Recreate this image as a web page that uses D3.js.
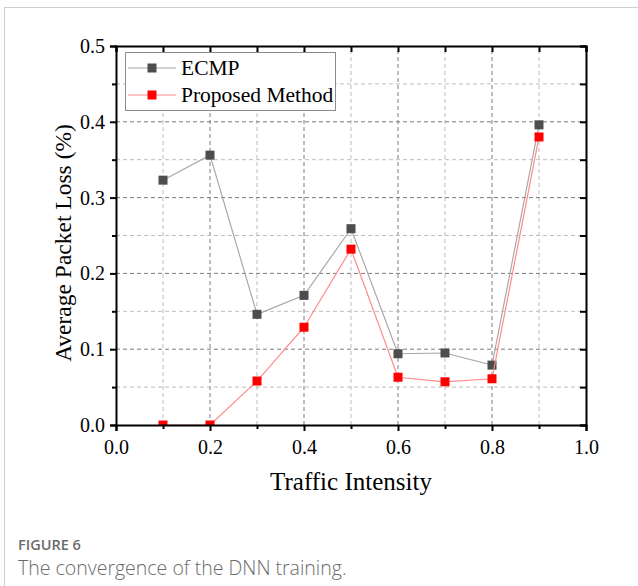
<!DOCTYPE html>
<html>
<head>
<meta charset="utf-8">
<script src="https://cdn.jsdelivr.net/npm/d3@7"></script>
<style>
  body { margin: 0; background: #fff; }
  svg text { font-family: "Liberation Serif", "Times New Roman", serif; }
</style>
</head>
<body>
<div id="chart"></div>
<script>
// Average packet loss vs traffic intensity

const intensity = [0.1, 0.2, 0.3, 0.4, 0.5, 0.6, 0.7, 0.8, 0.9];
const ecmp = [0.323, 0.356, 0.146, 0.171, 0.259, 0.094, 0.095, 0.079, 0.396];
const proposed = [0.0, 0.0, 0.058, 0.129, 0.232, 0.063, 0.057, 0.061, 0.380];
const xTicks = [0, 0.2, 0.4, 0.6, 0.8, 1.0];
const yTicks = [0, 0.1, 0.2, 0.3, 0.4, 0.5];
const seriesNames = ["ECMP", "Proposed Method"];

const width = 638, height = 586;
const margin = {top: 46, right: 52, bottom: 161, left: 116};

const svg = d3.select("#chart").append("svg")
    .attr("width", width)
    .attr("height", height);

// outer figure frame
svg.append("line").attr("x1", 4).attr("x2", width).attr("y1", 7.5).attr("y2", 7.5)
    .attr("stroke", "#cfcfcf").attr("stroke-width", 1);
svg.append("line").attr("x1", 4.5).attr("x2", 4.5).attr("y1", 7).attr("y2", height)
    .attr("stroke", "#cfcfcf").attr("stroke-width", 1);

const x = d3.scaleLinear().domain([0, 1]).range([margin.left, width - margin.right]);
const y = d3.scaleLinear().domain([0, 0.5]).range([height - margin.bottom, margin.top]);

const minorX = d3.range(0, 11).map(d => d / 10);
const minorY = d3.range(0, 11).map(d => d / 20);
const isMajor = (list, d) => list.some(t => Math.abs(t - d) < 1e-9);

svg.append("clipPath").attr("id", "plot-clip")
    .append("rect")
    .attr("x", x(0)).attr("y", y(0.5))
    .attr("width", x(1) - x(0)).attr("height", y(0) - y(0.5));

// grid
const grid = svg.append("g");
minorX.forEach(function(d, i) {
    if (i == 0 || i == 10) return;
    grid.append("line")
        .attr("x1", x(d)).attr("x2", x(d))
        .attr("y1", y(0)).attr("y2", y(0.5))
        .attr("stroke", i % 2 == 0 ? "#7a7a7a" : "#bdbdbd")
        .attr("stroke-dasharray", "4,3")
        .attr("stroke-width", 1);
});
minorY.forEach(function(d, i) {
    if (i == 0 || i == 10) return;
    grid.append("line")
        .attr("x1", x(0)).attr("x2", x(1))
        .attr("y1", y(d)).attr("y2", y(d))
        .attr("stroke", i % 2 == 0 ? "#7a7a7a" : "#bdbdbd")
        .attr("stroke-dasharray", "4,3")
        .attr("stroke-width", 1);
});

// series
const series = [
    {name: seriesNames[0], values: ecmp, line: "#a8a8a8", fill: "#4d4d4d"},
    {name: seriesNames[1], values: proposed, line: "#ff8a8a", fill: "#ff0000"}
];

const line = d3.line()
    .x((d, i) => x(intensity[i]))
    .y(d => y(d));

const plot = svg.append("g").attr("clip-path", "url(#plot-clip)");
series.forEach(function(s) {
    plot.append("path")
        .datum(s.values)
        .attr("fill", "none")
        .attr("stroke", s.line)
        .attr("stroke-width", 1.2)
        .attr("d", line);

    plot.selectAll(null).data(s.values).enter()
        .append("rect")
        .attr("x", (d, i) => x(intensity[i]) - 4.5)
        .attr("y", d => y(d) - 4.5)
        .attr("width", 9)
        .attr("height", 9)
        .attr("fill", s.fill);
});

// axes
const bottomAxis = svg.append("g")
    .attr("transform", "translate(0," + y(0) + ")")
    .call(d3.axisBottom(x).tickValues(minorX).tickSize(6)
        .tickFormat(d => isMajor(xTicks, d) ? d3.format(".1f")(d) : ""));
const leftAxis = svg.append("g")
    .attr("transform", "translate(" + x(0) + ",0)")
    .call(d3.axisLeft(y).tickValues(minorY).tickSize(6)
        .tickFormat(d => isMajor(yTicks, d) ? d3.format(".1f")(d) : ""));
const topAxis = svg.append("g")
    .attr("transform", "translate(0," + y(0.5) + ")")
    .call(d3.axisTop(x).tickValues(minorX).tickSize(-6).tickFormat(""));
const rightAxis = svg.append("g")
    .attr("transform", "translate(" + x(1) + ",0)")
    .call(d3.axisRight(y).tickValues(minorY).tickSize(-6).tickFormat(""));

[bottomAxis, leftAxis, topAxis, rightAxis].forEach(function(a) {
    a.attr("font-family", "'Liberation Serif', serif").attr("font-size", 20);
    a.select(".domain").attr("stroke", "#000").attr("stroke-width", 2);
    a.selectAll(".tick line").attr("stroke", "#000").attr("stroke-width", 2);
    a.selectAll(".tick text").attr("fill", "#000");
});

// shorter minor ticks
bottomAxis.selectAll(".tick line").filter(d => !isMajor(xTicks, d)).attr("y2", 4);
leftAxis.selectAll(".tick line").filter(d => !isMajor(yTicks, d)).attr("x2", -4);

bottomAxis.selectAll(".tick text").attr("dy", "1em");
leftAxis.selectAll(".tick text").attr("dx", "-2");

// axis titles
svg.append("text")
    .text("Traffic Intensity")
    .attr("x", x(0.5))
    .attr("y", 490)
    .attr("text-anchor", "middle")
    .style("font-size", "25px");

svg.append("text")
    .text("Average Packet Loss (%)")
    .attr("transform", "translate(71,243) rotate(-90)")
    .attr("text-anchor", "middle")
    .style("font-size", "23.5px");

// legend
const legend = svg.append("g");
legend.append("rect")
    .attr("x", 125.5).attr("y", 52.5)
    .attr("width", 210).attr("height", 58)
    .attr("fill", "#fff")
    .attr("stroke", "#8c8c8c")
    .attr("stroke-width", 1);

series.forEach(function(s, i) {
    const ly = 68 + i * 27;
    legend.append("line")
        .attr("x1", 128).attr("x2", 176)
        .attr("y1", ly).attr("y2", ly)
        .attr("stroke", s.line)
        .attr("stroke-width", 1.2);
    legend.append("rect")
        .attr("x", 147.5).attr("y", ly - 4.5)
        .attr("width", 9).attr("height", 9)
        .attr("fill", s.fill);
    legend.append("text")
        .text(s.name)
        .attr("x", 181)
        .attr("y", ly + 7)
        .style("font-size", "21.5px");
});

// caption
svg.append("text")
    .text("FIGURE 6")
    .attr("x", 18)
    .attr("y", 550)
    .attr("fill", "#6b6b6b")
    .style("font-family", "'Open Sans', sans-serif")
    .style("font-weight", "600")
    .style("font-size", "14.5px");

svg.append("text")
    .text("The convergence of the DNN training.")
    .attr("x", 18)
    .attr("y", 575)
    .attr("fill", "#6b6b6b")
    .style("font-family", "'Open Sans', sans-serif")
    .style("font-weight", "300")
    .style("font-size", "19.5px");
</script>
</body>
</html>
